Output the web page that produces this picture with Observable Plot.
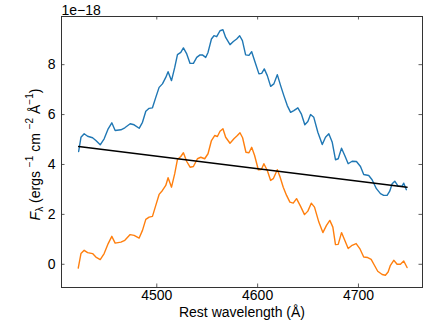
<!DOCTYPE html>
<html>
<head>
<meta charset="utf-8">
<script src="https://cdn.jsdelivr.net/npm/d3@7"></script>
<script src="https://cdn.jsdelivr.net/npm/@observablehq/plot@0.6"></script>
<style>
  html, body { margin: 0; padding: 0; background: #fff; }
</style>
</head>
<body>
<div id="chart"></div>
<script>
// Observed spectrum (blue), in units of 1e-18
const blueWave = [4422.5,4424.8,4428.0,4431.4,4436.3,4439.6,4443.9,4447.8,4451.8,4455.4,4458.7,4464.4,4468.3,4473.6,4477.5,4482.5,4485.8,4489.1,4492.4,4495.7,4499.0,4502.3,4505.6,4508.9,4511.2,4514.6,4517.8,4520.5,4523.8,4526.4,4529.7,4533.0,4536.3,4539.6,4542.9,4545.2,4548.5,4550.8,4554.2,4556.7,4559.4,4562.7,4565.6,4568.3,4572.6,4575.9,4579.2,4582.2,4584.9,4588.1,4591.4,4594.1,4597.0,4601.3,4604.0,4606.6,4609.6,4612.9,4616.1,4619.5,4622.8,4626.0,4629.4,4632.7,4635.9,4639.9,4643.3,4646.8,4649.8,4652.5,4655.7,4659.7,4664.1,4667.3,4670.6,4674.0,4677.2,4679.9,4683.2,4686.4,4689.8,4693.7,4698.0,4702.0,4705.2,4710.2,4713.5,4717.8,4721.8,4725.0,4728.4,4731.0,4733.4,4736.0,4739.3,4743.3,4744.9,4747.5];
const blueFlux = [4.52,5.09,5.23,5.13,5.07,4.96,4.79,5.03,5.43,5.67,5.36,5.39,5.47,5.63,5.59,5.45,5.69,6.13,6.25,6.27,6.69,7.09,7.23,7.49,7.72,7.36,7.89,8.40,8.49,8.67,8.43,8.05,8.05,8.29,8.39,8.39,8.29,8.49,9.03,9.16,9.12,9.36,9.40,9.09,8.80,8.93,9.03,9.16,8.96,8.39,8.37,8.52,8.16,7.63,7.65,7.83,7.56,7.13,7.23,7.60,7.16,6.76,6.36,6.09,6.16,6.27,6.03,5.59,5.72,6.00,5.89,5.29,4.80,5.09,5.23,4.89,4.19,4.23,4.65,4.36,4.03,4.13,4.12,3.92,3.60,3.56,3.39,3.03,2.83,2.76,2.76,2.93,3.23,3.33,3.13,3.13,3.25,2.99];

// Continuum-subtracted spectrum (orange)
const orangeWave = [4422.1,4424.8,4428.0,4431.4,4436.3,4439.6,4443.9,4447.8,4451.8,4455.4,4458.7,4464.4,4468.3,4473.6,4477.5,4482.5,4485.8,4489.1,4492.4,4495.7,4499.0,4502.3,4505.6,4508.9,4511.2,4514.6,4517.8,4520.5,4523.8,4526.4,4529.7,4533.0,4536.3,4540.3,4543.6,4547.5,4550.8,4554.2,4557.4,4560.1,4562.7,4565.6,4568.3,4572.6,4576.5,4579.9,4582.5,4585.1,4588.4,4591.4,4594.1,4597.0,4600.7,4603.7,4606.2,4609.6,4612.9,4615.5,4619.5,4622.1,4625.4,4628.7,4632.0,4635.3,4638.6,4642.6,4646.5,4649.8,4653.2,4656.4,4660.7,4664.7,4668.3,4671.6,4674.6,4677.2,4679.9,4683.2,4686.4,4689.8,4693.7,4697.7,4701.3,4705.2,4709.2,4712.6,4715.8,4719.1,4723.5,4726.7,4729.4,4731.7,4735.0,4738.3,4741.6,4744.9,4748.2];
const orangeFlux = [-0.15,0.43,0.56,0.47,0.43,0.29,0.19,0.43,0.83,1.12,0.85,0.89,0.96,1.19,1.16,1.05,1.36,1.80,1.89,1.92,2.36,2.80,2.96,3.16,3.47,3.09,3.63,4.20,4.32,4.47,4.12,3.89,3.92,4.23,4.29,4.23,4.43,4.96,5.16,5.12,5.33,5.43,5.09,4.85,5.03,5.16,5.27,5.07,4.49,4.47,4.69,4.36,3.79,3.80,4.03,3.76,3.36,3.43,3.79,3.52,3.09,2.76,2.49,2.45,2.63,2.32,1.99,2.13,2.45,2.29,1.69,1.27,1.56,1.76,1.49,0.79,0.80,1.27,0.96,0.63,0.76,0.83,0.63,0.29,0.27,0.20,-0.04,-0.28,-0.41,-0.44,-0.31,-0.04,0.16,0.00,0.00,0.13,-0.13];

// Continuum fit (black)
const contWave = [4422.5, 4748.2];
const contFlux = [4.72, 3.09];

const xTicks = [4500, 4600, 4700];
const yTicks = [0, 2, 4, 6, 8];
const xLabel = "Rest wavelength (Å)";
const offsetLabel = "1e\u221218";

const blue = blueWave.map((w, i) => ({w, f: blueFlux[i]}));
const orange = orangeWave.map((w, i) => ({w, f: orangeFlux[i]}));
const cont = contWave.map((w, i) => ({w, f: contFlux[i]}));

const W = 436, H = 327;
const mL = 61, mR = 14, mT = 16, mB = 40;
const innerW = W - mL - mR, innerH = H - mT - mB;
const tickLen = 3.5;
const axisColor = "#333";

const chart = Plot.plot({
  width: W, height: H,
  marginLeft: mL, marginRight: mR, marginTop: mT, marginBottom: mB,
  style: {fontFamily: "'Liberation Sans', Arial, sans-serif", fontSize: "14px", color: "#000", background: "#fff"},
  x: {domain: [4405.5, 4763.5]},
  y: {domain: [-0.93, 9.93]},
  marks: [
    Plot.line(blue, {x: "w", y: "f", stroke: "#1f77b4", strokeWidth: 1.4}),
    Plot.line(orange, {x: "w", y: "f", stroke: "#ff7f0e", strokeWidth: 1.4}),
    Plot.line(cont, {x: "w", y: "f", stroke: "#000", strokeWidth: 1.4}),
    Plot.tickX(xTicks, {x: d => d, insetTop: innerH - tickLen, stroke: axisColor, strokeWidth: 0.8}),
    Plot.tickX(xTicks, {x: d => d, insetBottom: innerH - tickLen, stroke: axisColor, strokeWidth: 0.8}),
    Plot.tickY(yTicks, {y: d => d, insetRight: innerW - tickLen, stroke: axisColor, strokeWidth: 0.8}),
    Plot.tickY(yTicks, {y: d => d, insetLeft: innerW - tickLen, stroke: axisColor, strokeWidth: 0.8}),
    Plot.axisX(xTicks, {tickSize: 0, tickPadding: 3, label: null, tickFormat: d => String(d)}),
    Plot.axisY(yTicks, {tickSize: 0, tickPadding: 6, label: null, tickFormat: d => String(d)}),
    Plot.frame({stroke: axisColor, strokeWidth: 1}),
    Plot.text([xLabel], {frameAnchor: "bottom", dy: 29, text: d => d, fontSize: 14}),
    Plot.text([offsetLabel], {frameAnchor: "top-left", textAnchor: "start", lineAnchor: "bottom", dy: -2, text: d => d, fontSize: 14})
  ]
});

// Y-axis label with sub/superscripts
const svg = d3.select(chart);
const yl = svg.append("text")
  .attr("transform", `translate(40,${mT + innerH / 2 + 3}) rotate(-90)`)
  .attr("text-anchor", "middle")
  .attr("font-size", 14)
  .attr("fill", "#000");
yl.append("tspan").attr("font-style", "italic").text("F");
yl.append("tspan").attr("font-size", 10).attr("dy", 3).text("λ");
yl.append("tspan").attr("dy", -3).text(" (ergs ");
yl.append("tspan").attr("font-size", 10).attr("dy", -7).text("−1");
yl.append("tspan").attr("dy", 7).text(" cm ");
yl.append("tspan").attr("font-size", 10).attr("dy", -7).text("−2");
yl.append("tspan").attr("dy", 7).text(" Å");
yl.append("tspan").attr("font-size", 10).attr("dy", -7).text("−1");
yl.append("tspan").attr("dy", 7).text(")");

document.getElementById("chart").appendChild(chart);
</script>
</body>
</html>
